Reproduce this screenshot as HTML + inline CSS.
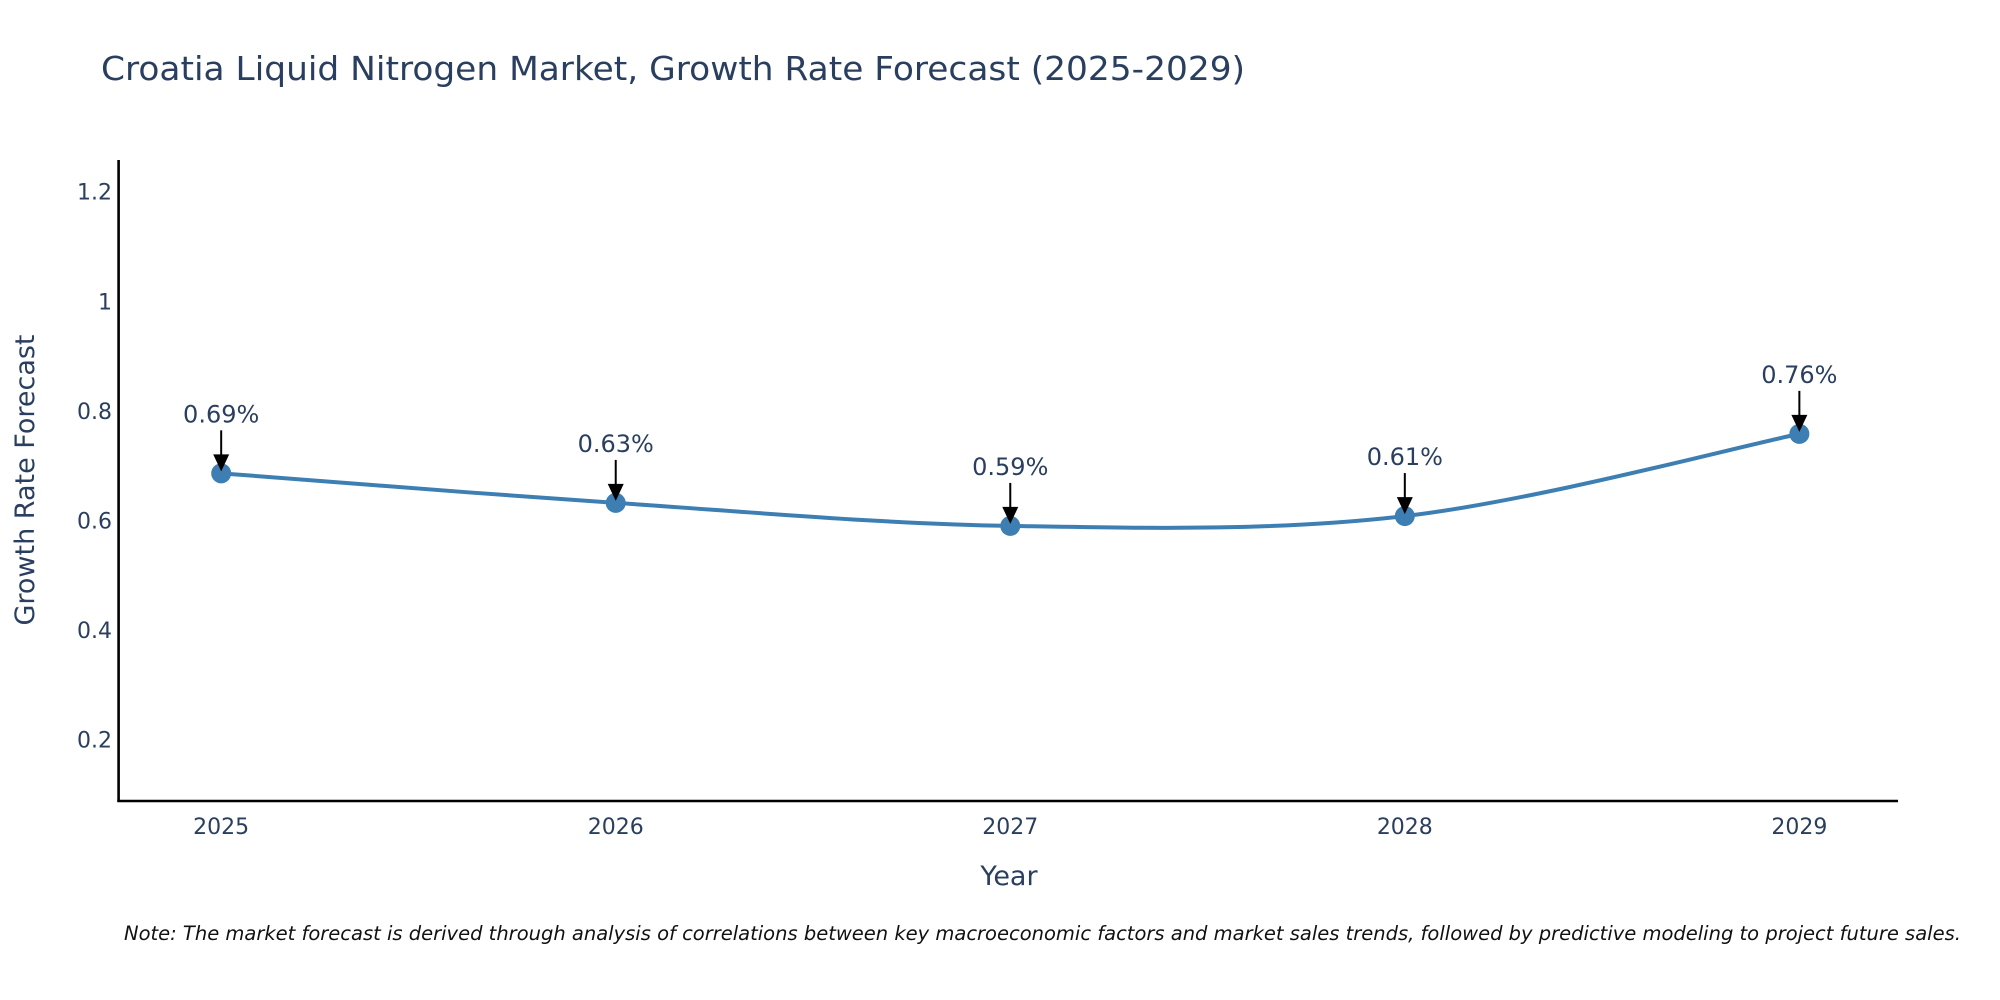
<!DOCTYPE html>
<html><head><meta charset="utf-8"><style>
html,body{margin:0;padding:0;background:#fff;}
svg{display:block;font-family:"DejaVu Sans","Liberation Sans",sans-serif;}
</style></head><body>
<svg id="chart" width="2000" height="1000" viewBox="0 0 2000 1000" xmlns="http://www.w3.org/2000/svg">
<text x="101" y="80" font-size="33" fill="#2a3f5f" textLength="1144" lengthAdjust="spacingAndGlyphs">Croatia Liquid Nitrogen Market, Growth Rate Forecast (2025-2029)</text>
<g id="yticks"></g>
<g id="xticks"></g>
<line x1="118.6" y1="160" x2="118.6" y2="802" stroke="#000" stroke-width="2.6"/>
<line x1="117.3" y1="801" x2="1898" y2="801" stroke="#000" stroke-width="2.6"/>
<g id="series"></g>
<g id="annots"></g>
<text x="1009" y="885" font-size="27" fill="#2a3f5f" text-anchor="middle">Year</text>
<text transform="translate(34,480) rotate(-90)" font-size="27" fill="#2a3f5f" text-anchor="middle">Growth Rate Forecast</text>
<text x="124" y="940" font-size="19.5" font-style="italic" fill="#111">Note: The market forecast is derived through analysis of correlations between key macroeconomic factors and market sales trends, followed by predictive modeling to project future sales.</text>
</svg>
<script>
const years = [2025, 2026, 2027, 2028, 2029];
const growth = [0.686, 0.632, 0.590, 0.608, 0.758];
const labels = ["0.69%", "0.63%", "0.59%", "0.61%", "0.76%"];
const yTickValues = [0.2, 0.4, 0.6, 0.8, 1, 1.2];
const yTickLabels = ["0.2", "0.4", "0.6", "0.8", "1", "1.2"];

const NS = "http://www.w3.org/2000/svg";
const plot = {left: 118.6, right: 1898, top: 161, bottom: 801};
const xMin = 2024.74, xMax = 2029.25, yMin = 0.088, yMax = 1.256;
function xs(v){ return plot.left + (v - xMin) / (xMax - xMin) * (plot.right - plot.left); }
function ys(v){ return plot.bottom - (v - yMin) / (yMax - yMin) * (plot.bottom - plot.top); }
function mk(tag, attrs, parent){ const e = document.createElementNS(NS, tag); for (const k in attrs) e.setAttribute(k, attrs[k]); parent.appendChild(e); return e; }

const yt = document.getElementById('yticks');
yTickValues.forEach((v, i) => {
  const t = mk('text', {x: 112, y: ys(v) + 8, 'font-size': 22, fill: '#2a3f5f', 'text-anchor': 'end'}, yt);
  
  
  t.textContent = yTickLabels[i];
});
const xt = document.getElementById('xticks');
years.forEach(y => {
  const t = mk('text', {x: xs(y), y: 834, 'font-size': 22, fill: '#2a3f5f', 'text-anchor': 'middle'}, xt);
  
  
  t.textContent = String(y);
});

const pts = years.map((y, i) => [xs(y), ys(growth[i])]);
let d = `M${pts[0][0]},${pts[0][1]}`;
const s = 1/6;
for (let i = 0; i < pts.length - 1; i++) {
  const p0 = pts[Math.max(0, i - 1)], p1 = pts[i], p2 = pts[i + 1], p3 = pts[Math.min(pts.length - 1, i + 2)];
  const c1 = [p1[0] + (p2[0] - p0[0]) * s, p1[1] + (p2[1] - p0[1]) * s];
  const c2 = [p2[0] - (p3[0] - p1[0]) * s, p2[1] - (p3[1] - p1[1]) * s];
  d += ` C${c1[0]},${c1[1]} ${c2[0]},${c2[1]} ${p2[0]},${p2[1]}`;
}
const ser = document.getElementById('series');
const line = mk('path', {d: d, fill: 'none', stroke: '#3d7fb2', 'stroke-width': 4}, ser);


pts.forEach(p => {
  const c = mk('circle', {cx: p[0], cy: p[1], r: 10, fill: '#3d7fb2'}, ser);
  
  
});

const an = document.getElementById('annots');
pts.forEach((p, i) => {
  const ln = mk('line', {x1: p[0], y1: p[1] - 43, x2: p[0], y2: p[1] - 16, stroke: '#000', 'stroke-width': 2}, an);
  
  
  const hd = mk('polygon', {points: `${p[0]-8},${p[1]-19} ${p[0]+8},${p[1]-19} ${p[0]},${p[1]-2}`, fill: '#000'}, an);
  
  
  const t = mk('text', {x: p[0], y: p[1] - 51, 'font-size': 24, fill: '#2a3f5f', 'text-anchor': 'middle'}, an);
  
  
  t.textContent = labels[i];
});
</script>
</body></html>
